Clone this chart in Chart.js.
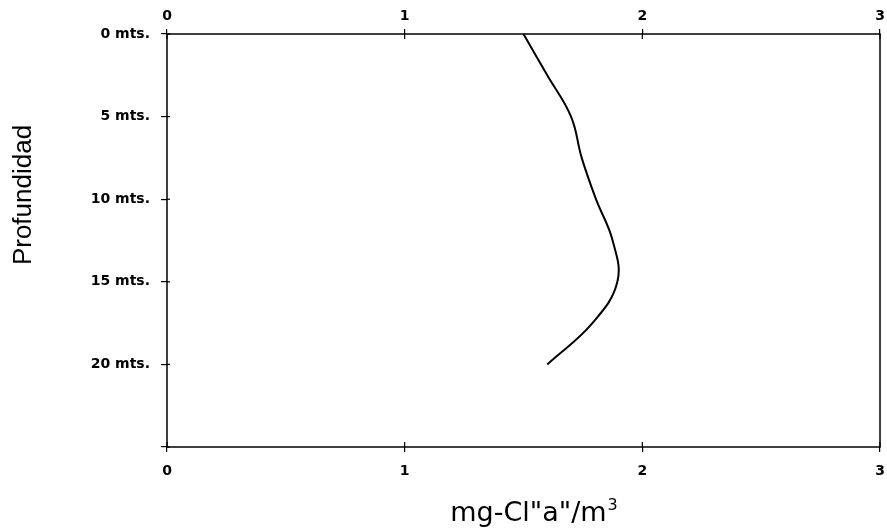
<!DOCTYPE html>
<html>
<head>
<meta charset="utf-8">
<script src="https://cdn.jsdelivr.net/npm/chart.js@4.4.1/dist/chart.umd.min.js"></script>
<style>
  html, body { margin: 0; padding: 0; background: #fff; }
  #wrap { width: 887px; height: 528px; }
</style>
</head>
<body>
<div id="wrap"><canvas id="grafico" width="887" height="528"></canvas></div>
<script>
// Datos (profundidad en metros, clorofila en mg/m3)
const profundidades = [0, 2.5, 5, 7.5, 10, 12.5, 15, 17.5, 20];
const clorofila = [1.50, 1.60, 1.70, 1.745, 1.805, 1.875, 1.895, 1.79, 1.60];
const ticksProf = [0, 5, 10, 15, 20, 25];
const etiquetasProf = ['0 mts.', '5 mts.', '10 mts.', '15 mts.', '20 mts.', ''];
const ticksX = [0, 1, 2, 3];
const tituloX = 'mg-Cl"a"/m';
const tituloXsup = '3';
const tituloY = 'Profundidad';

const puntos = profundidades.map((p, i) => ({ x: clorofila[i], y: p }));

const fuenteTicks = { family: 'DejaVu Sans', size: 14, weight: 'bold' };

// marco, marcas hacia adentro y titulos de los ejes
const marco = {
  id: 'marco',
  afterDraw(chart) {
    const c = chart.ctx, a = chart.chartArea;
    c.save();
    c.strokeStyle = '#000';
    c.lineWidth = 1.5;
    c.strokeRect(a.left, a.top, a.right - a.left, a.bottom - a.top);
    c.lineWidth = 1.2;
    const sx = chart.scales.x, sy = chart.scales.y;
    ticksX.forEach(v => {
      const px = sx.getPixelForValue(v);
      c.beginPath(); c.moveTo(px, a.top); c.lineTo(px, a.top + 5); c.stroke();
      c.beginPath(); c.moveTo(px, a.bottom); c.lineTo(px, a.bottom - 5); c.stroke();
    });
    ticksProf.forEach(v => {
      const py = sy.getPixelForValue(v);
      c.beginPath(); c.moveTo(a.left, py); c.lineTo(a.left + 3, py); c.stroke();
    });

    // titulo eje x con superindice
    c.fillStyle = '#000';
    c.textBaseline = 'alphabetic';
    c.textAlign = 'left';
    c.font = '27px "DejaVu Sans"';
    const w1 = c.measureText(tituloX).width;
    c.font = '16px "DejaVu Sans"';
    const w2 = c.measureText(tituloXsup).width;
    const x0 = 534 - (w1 + w2 + 1) / 2;
    c.font = '27px "DejaVu Sans"';
    c.fillText(tituloX, x0, 521);
    c.font = '16px "DejaVu Sans"';
    c.fillText(tituloXsup, x0 + w1 + 1, 510);

    // titulo eje y
    c.translate(31, 195);
    c.rotate(-Math.PI / 2);
    c.textAlign = 'center';
    c.font = '26px "Liberation Sans", Arial, sans-serif';
    c.fillText(tituloY, 0, 0);
    c.restore();
  }
};

const sinRelleno = s => { s.paddingLeft = 0; s.paddingRight = 0; };

new Chart(document.getElementById('grafico'), {
  type: 'scatter',
  data: {
    datasets: [{
      data: puntos,
      showLine: true,
      tension: 0.4,
      borderColor: '#000',
      borderWidth: 2,
      pointRadius: 0,
      fill: false
    }]
  },
  options: {
    responsive: false,
    animation: false,
    layout: { padding: { right: 7 } },
    plugins: { legend: { display: false }, tooltip: { enabled: false } },
    scales: {
      x: {
        type: 'linear', position: 'bottom', min: 0, max: 3,
        afterBuildTicks: s => { s.ticks = ticksX.map(v => ({ value: v })); },
        afterFit: s => { s.height = 81; sinRelleno(s); },
        ticks: { color: '#000', font: fuenteTicks, padding: 11, maxRotation: 0 },
        grid: { drawOnChartArea: false, tickLength: 5, color: '#000', lineWidth: 1.2 },
        border: { display: false }
      },
      x2: {
        type: 'linear', position: 'top', min: 0, max: 3,
        afterBuildTicks: s => { s.ticks = ticksX.map(v => ({ value: v })); },
        afterFit: s => { s.height = 34; sinRelleno(s); },
        ticks: { color: '#000', font: fuenteTicks, padding: 4, maxRotation: 0 },
        grid: { drawOnChartArea: false, tickLength: 5, color: '#000', lineWidth: 1.2 },
        border: { display: false }
      },
      y: {
        type: 'linear', reverse: true, min: 0, max: 25,
        afterBuildTicks: s => { s.ticks = ticksProf.map(v => ({ value: v })); },
        afterFit: s => { s.width = 167; s.paddingTop = 0; s.paddingBottom = 0; },
        ticks: {
          color: '#000', font: fuenteTicks, padding: 11,
          callback: (v) => etiquetasProf[ticksProf.indexOf(v)]
        },
        grid: { drawOnChartArea: false, tickLength: 6, color: '#000', lineWidth: 1.2 },
        border: { display: false }
      }
    }
  },
  plugins: [marco]
});
</script>
</body>
</html>
